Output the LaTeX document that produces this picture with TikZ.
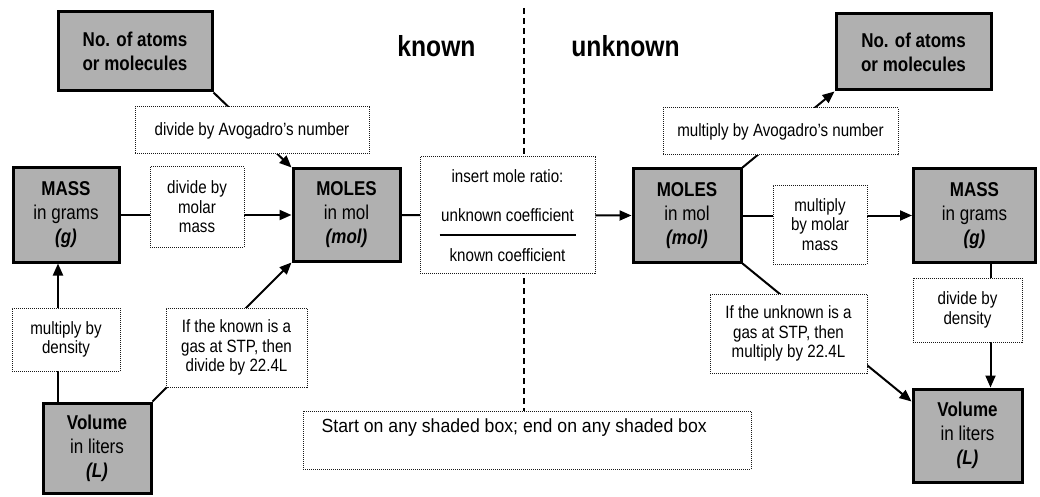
\documentclass[tikz,border=0pt]{standalone}
\usepackage{fontspec}
\setmainfont{Liberation Sans}[FakeStretch=0.85]
\newfontfamily\notefont{Liberation Sans}[FakeStretch=0.93]
\usetikzlibrary{arrows.meta}
\definecolor{shade}{RGB}{176,176,176}
\tikzset{
  shaded/.style={draw, line width=3pt, fill=shade, inner sep=0pt, align=center,
    font=\fontsize{20}{24}\selectfont},
  lbl/.style={draw=black!90, line width=1pt, dash pattern=on 1pt off 1pt, fill=white,
    inner sep=0pt, align=center, font=\fontsize{17.8}{19.5}\selectfont},
  txt/.style={inner sep=0pt, font=\fontsize{17.8}{19.5}\selectfont},
  head/.style={inner sep=0pt, font=\bfseries\fontsize{29}{34}\selectfont},
  conn/.style={line width=2pt},
  arr/.style={line width=2pt, -{Triangle[length=12pt,width=10pt]}},
  divider/.style={line width=2pt, dash pattern=on 6pt off 4pt},
}
\begin{document}
\begin{tikzpicture}[x=1pt,y=-1pt]
\useasboundingbox (0,0) rectangle (1040,497);

% column headings
\node[head, anchor=base] (known) at (436.5,57) {known};
\node[head, anchor=base] (unknown) at (625.5,57) {unknown};

% shaded quantity boxes
\node[shaded, minimum width=154pt, minimum height=79pt] (atomsL) at (135,51.5)
  {\textbf{No. of atoms}\\\textbf{or molecules}};
\node[shaded, minimum width=155pt, minimum height=76pt] (atomsR) at (913.5,52)
  {\textbf{No. of atoms}\\\textbf{or molecules}};
\node[shaded, minimum width=106pt, minimum height=94pt] (massL) at (66,215)
  {\textbf{MASS}\\in grams\\\textbf{\textit{(g)}}};
\node[shaded, minimum width=107pt, minimum height=92pt] (molesL) at (346.5,215)
  {\textbf{MOLES}\\in mol\\\textbf{\textit{(mol)}}};
\node[shaded, minimum width=108pt, minimum height=93pt] (molesR) at (687,215.5)
  {\textbf{MOLES}\\in mol\\\textbf{\textit{(mol)}}};
\node[shaded, minimum width=122pt, minimum height=93pt] (massR) at (974.5,215.5)
  {\textbf{MASS}\\in grams\\\textbf{\textit{(g)}}};
\node[shaded, minimum width=108pt, minimum height=90pt] (volL) at (97,448)
  {\textbf{Volume}\\in liters\\\textbf{\textit{(L)}}};
\node[shaded, minimum width=109pt, minimum height=93pt] (volR) at (967.5,435.5)
  {\textbf{Volume}\\in liters\\\textbf{\textit{(L)}}};

% dividing line between the known and the unknown side
\coordinate (divtop) at (524,8);
\coordinate (divbot) at (524,411);
\draw[divider] (divtop) -- (divbot);

% conversion paths
\draw[arr] (atomsL.south east) -- (molesL.north west);
\draw[arr] (massL.east) -- (molesL.west);
\draw[arr] (molesL.east) -- (molesR.west);
\draw[arr] (molesR.north east) -- (atomsR.south west);
\draw[arr] (molesR.east) -- (massR.west);
\draw[arr] ([xshift=-8pt]massL.south |- volL.north) -- ([xshift=-8pt]massL.south);
\draw[arr] (volL.north east) -- (molesL.south west);
\draw[arr] (molesR.south east) -- ([yshift=-14pt]volR.north west);
\draw[arr] ([xshift=16pt]massR.south) -- ([xshift=16pt]massR.south |- volR.north);

% operation labels
\node[lbl, minimum width=234pt, minimum height=47pt] (avoL) at (252,130.5)
  {divide by Avogadro's number};
\node[lbl, minimum width=235pt, minimum height=47pt] (avoR) at (780.5,131.5)
  {multiply by Avogadro's number};
\node[lbl, minimum width=94pt, minimum height=80pt] (molarL) at (197,207)
  {divide by\\molar\\mass};
\node[lbl, minimum width=94pt, minimum height=79pt] (molarR) at (820,224.5)
  {multiply\\by molar\\mass};
\node[lbl, minimum width=108pt, minimum height=63pt] (densL) at (66,339.5)
  {multiply by\\density};
\node[lbl, minimum width=109pt, minimum height=64pt] (densR) at (967.5,310)
  {divide by\\density};
\node[lbl, minimum width=141pt, minimum height=79pt] (gasL) at (236.5,347.5)
  {If the known is a\\gas at STP, then\\divide by 22.4L};
\node[lbl, minimum width=157pt, minimum height=79pt] (gasR) at (788.5,333.5)
  {If the unknown is a\\gas at STP, then\\multiply by 22.4L};

% mole ratio box
\node[lbl, minimum width=175pt, minimum height=116pt] (ratio) at (507.5,215) {};
\node[txt] (ratio1) at ([yshift=-20pt]ratio.north) {insert mole ratio:};
\node[txt] (ratio2) at ([yshift=-59pt]ratio.north) {unknown coefficient};
\node[txt] (ratio3) at ([yshift=-99pt]ratio.north) {known coefficient};
\draw[conn] ([xshift=-68pt,yshift=-78pt]ratio.north) -- ([xshift=68pt,yshift=-78pt]ratio.north);

% instruction box
\node[lbl, minimum width=448pt, minimum height=58pt] (note) at (527,440) {};
\node[inner sep=0pt, anchor=west, font=\notefont\fontsize{19}{22}\selectfont] (notetext)
  at ([xshift=19pt,yshift=-17pt]note.north west) {Start on any shaded box; end on any shaded box};
\end{tikzpicture}
\end{document}
